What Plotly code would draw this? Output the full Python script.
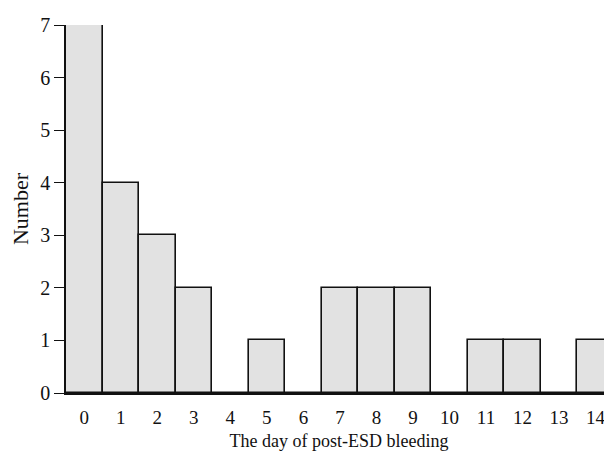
import plotly.graph_objects as go

# days after ESD and number of bleeding cases per day
days = list(range(15))
day_labels = [str(d) for d in days]
counts = [7, 4, 3, 2, 0, 1, 0, 2, 2, 2, 0, 1, 1, 0, 1]
y_ticks = [0, 1, 2, 3, 4, 5, 6, 7]

fig = go.Figure()
fig.add_trace(go.Bar(x=days, y=counts, width=1,
                     marker=dict(color='#e2e2e2',
                                 line=dict(color='#111111', width=1.6)),
                     showlegend=False))

font = dict(family='Liberation Serif', size=19, color='#111111')

# page body adds an 8px margin, so the figure is sized a bit smaller
fig.update_layout(
    width=604, height=447,
    margin=dict(l=58, r=0, t=17, b=62),
    paper_bgcolor='white', plot_bgcolor='white',
    font=font,
    bargap=0,
)
fig.update_xaxes(range=[-0.5, 14.45], tickvals=days, ticktext=day_labels,
                 showline=True, linecolor='#111111', linewidth=1.5,
                 ticks='outside', ticklen=6, tickcolor='rgba(0,0,0,0)',
                 showgrid=False, zeroline=False, automargin=False,
                 ticklabeloverflow='allow',
                 tickfont=dict(size=19),
                 title=dict(text='The day of post-ESD bleeding', standoff=8,
                            font=dict(family='Liberation Serif', size=18)))
fig.update_yaxes(range=[0, 7], tickvals=y_ticks,
                 showline=True, linecolor='#111111', linewidth=1.5,
                 ticks='outside', ticklen=10, tickcolor='#111111', tickwidth=1.2,
                 showgrid=False, zeroline=False, automargin=False,
                 tickfont=dict(size=20),
                 title=dict(text='Number', standoff=8,
                            font=dict(family='Liberation Serif', size=22)))

fig.write_html("out.html")
